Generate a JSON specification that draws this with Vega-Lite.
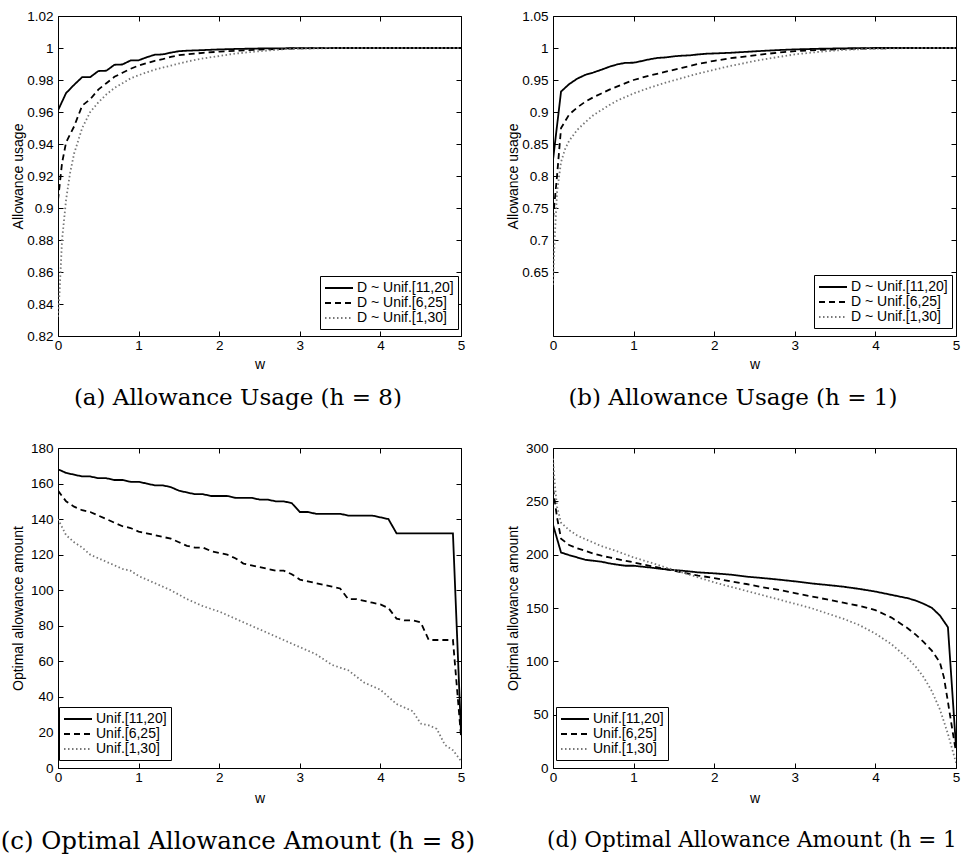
{
"$schema":"https://vega.github.io/schema/vega-lite/v6.json",
"padding":{"left":0,"top":8,"right":0,"bottom":0},
"config":{
 "view":{"stroke":"black","strokeWidth":1},
 "font":"Liberation Sans",
 "axis":{"domain":false,"grid":false,"tickColor":"black","tickSize":-5,"tickWidth":1,"labelColor":"black","labelFont":"Liberation Sans","labelFontSize":13.5,"labelFlush":false,"labelOverlap":false,"labelPadding":10,"titleFont":"Liberation Sans","titleFontSize":14,"titleFontWeight":"normal","titleColor":"black"},
 "axisX":{"labelPadding":7},
 "title":{"font":"DejaVu Serif","fontSize":23,"fontWeight":"normal","color":"black","orient":"bottom"},
 "legend":{"title":null,"orient":"none","symbolType":"M-1,0H3","symbolSize":196,"symbolStrokeWidth":1.8,"labelFont":"Liberation Sans","labelFontSize":14,"labelColor":"black","strokeColor":"black","fillColor":"white","padding":4,"rowPadding":0,"labelOffset":17,"labelLimit":300}
},
"datasets":{
"a":[
{"w":0,"v":0.961,"s":"D ~ Unif.[11,20]"},{"w":0.1,"v":0.9718,"s":"D ~ Unif.[11,20]"},{"w":0.2,"v":0.977,"s":"D ~ Unif.[11,20]"},{"w":0.3,"v":0.9818,"s":"D ~ Unif.[11,20]"},{"w":0.4,"v":0.9818,"s":"D ~ Unif.[11,20]"},{"w":0.5,"v":0.9856,"s":"D ~ Unif.[11,20]"},{"w":0.6,"v":0.9858,"s":"D ~ Unif.[11,20]"},{"w":0.7,"v":0.9895,"s":"D ~ Unif.[11,20]"},{"w":0.8,"v":0.9897,"s":"D ~ Unif.[11,20]"},{"w":0.9,"v":0.9922,"s":"D ~ Unif.[11,20]"},{"w":1,"v":0.9923,"s":"D ~ Unif.[11,20]"},{"w":1.1,"v":0.9942,"s":"D ~ Unif.[11,20]"},{"w":1.2,"v":0.9958,"s":"D ~ Unif.[11,20]"},{"w":1.3,"v":0.996,"s":"D ~ Unif.[11,20]"},{"w":1.4,"v":0.9971,"s":"D ~ Unif.[11,20]"},{"w":1.5,"v":0.998,"s":"D ~ Unif.[11,20]"},{"w":1.6,"v":0.9983,"s":"D ~ Unif.[11,20]"},{"w":1.8,"v":0.9987,"s":"D ~ Unif.[11,20]"},{"w":2,"v":0.9991,"s":"D ~ Unif.[11,20]"},{"w":2.2,"v":0.9994,"s":"D ~ Unif.[11,20]"},{"w":2.5,"v":0.9997,"s":"D ~ Unif.[11,20]"},{"w":3,"v":0.9999,"s":"D ~ Unif.[11,20]"},{"w":3.5,"v":1,"s":"D ~ Unif.[11,20]"},{"w":4,"v":1,"s":"D ~ Unif.[11,20]"},{"w":4.5,"v":1,"s":"D ~ Unif.[11,20]"},{"w":5,"v":1,"s":"D ~ Unif.[11,20]"},
{"w":0,"v":0.905,"s":"D ~ Unif.[6,25]"},{"w":0.05,"v":0.928,"s":"D ~ Unif.[6,25]"},{"w":0.1,"v":0.941,"s":"D ~ Unif.[6,25]"},{"w":0.2,"v":0.951,"s":"D ~ Unif.[6,25]"},{"w":0.3,"v":0.964,"s":"D ~ Unif.[6,25]"},{"w":0.4,"v":0.968,"s":"D ~ Unif.[6,25]"},{"w":0.5,"v":0.974,"s":"D ~ Unif.[6,25]"},{"w":0.6,"v":0.978,"s":"D ~ Unif.[6,25]"},{"w":0.7,"v":0.982,"s":"D ~ Unif.[6,25]"},{"w":0.8,"v":0.9845,"s":"D ~ Unif.[6,25]"},{"w":0.9,"v":0.987,"s":"D ~ Unif.[6,25]"},{"w":1,"v":0.989,"s":"D ~ Unif.[6,25]"},{"w":1.1,"v":0.9905,"s":"D ~ Unif.[6,25]"},{"w":1.2,"v":0.992,"s":"D ~ Unif.[6,25]"},{"w":1.3,"v":0.993,"s":"D ~ Unif.[6,25]"},{"w":1.4,"v":0.9945,"s":"D ~ Unif.[6,25]"},{"w":1.5,"v":0.9955,"s":"D ~ Unif.[6,25]"},{"w":1.6,"v":0.996,"s":"D ~ Unif.[6,25]"},{"w":1.7,"v":0.9965,"s":"D ~ Unif.[6,25]"},{"w":1.8,"v":0.997,"s":"D ~ Unif.[6,25]"},{"w":2,"v":0.9977,"s":"D ~ Unif.[6,25]"},{"w":2.2,"v":0.9982,"s":"D ~ Unif.[6,25]"},{"w":2.5,"v":0.999,"s":"D ~ Unif.[6,25]"},{"w":3,"v":0.9998,"s":"D ~ Unif.[6,25]"},{"w":3.5,"v":1,"s":"D ~ Unif.[6,25]"},{"w":4,"v":1,"s":"D ~ Unif.[6,25]"},{"w":5,"v":1,"s":"D ~ Unif.[6,25]"},
{"w":0,"v":0.832,"s":"D ~ Unif.[1,30]"},{"w":0.02,"v":0.848,"s":"D ~ Unif.[1,30]"},{"w":0.05,"v":0.88,"s":"D ~ Unif.[1,30]"},{"w":0.1,"v":0.905,"s":"D ~ Unif.[1,30]"},{"w":0.15,"v":0.922,"s":"D ~ Unif.[1,30]"},{"w":0.2,"v":0.934,"s":"D ~ Unif.[1,30]"},{"w":0.3,"v":0.95,"s":"D ~ Unif.[1,30]"},{"w":0.4,"v":0.96,"s":"D ~ Unif.[1,30]"},{"w":0.5,"v":0.966,"s":"D ~ Unif.[1,30]"},{"w":0.6,"v":0.971,"s":"D ~ Unif.[1,30]"},{"w":0.7,"v":0.975,"s":"D ~ Unif.[1,30]"},{"w":0.8,"v":0.978,"s":"D ~ Unif.[1,30]"},{"w":0.9,"v":0.981,"s":"D ~ Unif.[1,30]"},{"w":1,"v":0.983,"s":"D ~ Unif.[1,30]"},{"w":1.2,"v":0.9865,"s":"D ~ Unif.[1,30]"},{"w":1.4,"v":0.989,"s":"D ~ Unif.[1,30]"},{"w":1.6,"v":0.9915,"s":"D ~ Unif.[1,30]"},{"w":1.8,"v":0.9935,"s":"D ~ Unif.[1,30]"},{"w":2,"v":0.995,"s":"D ~ Unif.[1,30]"},{"w":2.2,"v":0.9965,"s":"D ~ Unif.[1,30]"},{"w":2.5,"v":0.998,"s":"D ~ Unif.[1,30]"},{"w":2.8,"v":0.9992,"s":"D ~ Unif.[1,30]"},{"w":3,"v":0.9996,"s":"D ~ Unif.[1,30]"},{"w":3.5,"v":1,"s":"D ~ Unif.[1,30]"},{"w":4,"v":1,"s":"D ~ Unif.[1,30]"},{"w":5,"v":1,"s":"D ~ Unif.[1,30]"}
],
"b":[
{"w":0,"v":0.825,"s":"D ~ Unif.[11,20]"},{"w":0.1,"v":0.932,"s":"D ~ Unif.[11,20]"},{"w":0.2,"v":0.9435,"s":"D ~ Unif.[11,20]"},{"w":0.3,"v":0.952,"s":"D ~ Unif.[11,20]"},{"w":0.4,"v":0.958,"s":"D ~ Unif.[11,20]"},{"w":0.5,"v":0.9617,"s":"D ~ Unif.[11,20]"},{"w":0.6,"v":0.966,"s":"D ~ Unif.[11,20]"},{"w":0.7,"v":0.9707,"s":"D ~ Unif.[11,20]"},{"w":0.8,"v":0.9745,"s":"D ~ Unif.[11,20]"},{"w":0.9,"v":0.9768,"s":"D ~ Unif.[11,20]"},{"w":1,"v":0.977,"s":"D ~ Unif.[11,20]"},{"w":1.1,"v":0.9796,"s":"D ~ Unif.[11,20]"},{"w":1.2,"v":0.9824,"s":"D ~ Unif.[11,20]"},{"w":1.3,"v":0.9845,"s":"D ~ Unif.[11,20]"},{"w":1.4,"v":0.9853,"s":"D ~ Unif.[11,20]"},{"w":1.5,"v":0.987,"s":"D ~ Unif.[11,20]"},{"w":1.6,"v":0.988,"s":"D ~ Unif.[11,20]"},{"w":1.7,"v":0.9885,"s":"D ~ Unif.[11,20]"},{"w":1.8,"v":0.99,"s":"D ~ Unif.[11,20]"},{"w":1.9,"v":0.991,"s":"D ~ Unif.[11,20]"},{"w":2,"v":0.9915,"s":"D ~ Unif.[11,20]"},{"w":2.2,"v":0.9925,"s":"D ~ Unif.[11,20]"},{"w":2.4,"v":0.994,"s":"D ~ Unif.[11,20]"},{"w":2.6,"v":0.9955,"s":"D ~ Unif.[11,20]"},{"w":2.8,"v":0.9968,"s":"D ~ Unif.[11,20]"},{"w":3,"v":0.9978,"s":"D ~ Unif.[11,20]"},{"w":3.3,"v":0.9988,"s":"D ~ Unif.[11,20]"},{"w":3.6,"v":0.9995,"s":"D ~ Unif.[11,20]"},{"w":4,"v":1,"s":"D ~ Unif.[11,20]"},{"w":4.5,"v":1,"s":"D ~ Unif.[11,20]"},{"w":5,"v":1,"s":"D ~ Unif.[11,20]"},
{"w":0,"v":0.733,"s":"D ~ Unif.[6,25]"},{"w":0.05,"v":0.8,"s":"D ~ Unif.[6,25]"},{"w":0.1,"v":0.875,"s":"D ~ Unif.[6,25]"},{"w":0.2,"v":0.896,"s":"D ~ Unif.[6,25]"},{"w":0.3,"v":0.907,"s":"D ~ Unif.[6,25]"},{"w":0.4,"v":0.916,"s":"D ~ Unif.[6,25]"},{"w":0.5,"v":0.923,"s":"D ~ Unif.[6,25]"},{"w":0.6,"v":0.929,"s":"D ~ Unif.[6,25]"},{"w":0.7,"v":0.935,"s":"D ~ Unif.[6,25]"},{"w":0.8,"v":0.94,"s":"D ~ Unif.[6,25]"},{"w":0.9,"v":0.945,"s":"D ~ Unif.[6,25]"},{"w":1,"v":0.95,"s":"D ~ Unif.[6,25]"},{"w":1.2,"v":0.957,"s":"D ~ Unif.[6,25]"},{"w":1.4,"v":0.963,"s":"D ~ Unif.[6,25]"},{"w":1.6,"v":0.969,"s":"D ~ Unif.[6,25]"},{"w":1.8,"v":0.975,"s":"D ~ Unif.[6,25]"},{"w":2,"v":0.98,"s":"D ~ Unif.[6,25]"},{"w":2.2,"v":0.984,"s":"D ~ Unif.[6,25]"},{"w":2.4,"v":0.987,"s":"D ~ Unif.[6,25]"},{"w":2.6,"v":0.99,"s":"D ~ Unif.[6,25]"},{"w":2.8,"v":0.993,"s":"D ~ Unif.[6,25]"},{"w":3,"v":0.995,"s":"D ~ Unif.[6,25]"},{"w":3.3,"v":0.997,"s":"D ~ Unif.[6,25]"},{"w":3.6,"v":0.9985,"s":"D ~ Unif.[6,25]"},{"w":4,"v":0.9995,"s":"D ~ Unif.[6,25]"},{"w":4.5,"v":1,"s":"D ~ Unif.[6,25]"},{"w":5,"v":1,"s":"D ~ Unif.[6,25]"},
{"w":0,"v":0.63,"s":"D ~ Unif.[1,30]"},{"w":0.02,"v":0.7,"s":"D ~ Unif.[1,30]"},{"w":0.05,"v":0.775,"s":"D ~ Unif.[1,30]"},{"w":0.1,"v":0.822,"s":"D ~ Unif.[1,30]"},{"w":0.15,"v":0.842,"s":"D ~ Unif.[1,30]"},{"w":0.2,"v":0.855,"s":"D ~ Unif.[1,30]"},{"w":0.3,"v":0.872,"s":"D ~ Unif.[1,30]"},{"w":0.4,"v":0.884,"s":"D ~ Unif.[1,30]"},{"w":0.5,"v":0.895,"s":"D ~ Unif.[1,30]"},{"w":0.6,"v":0.903,"s":"D ~ Unif.[1,30]"},{"w":0.7,"v":0.911,"s":"D ~ Unif.[1,30]"},{"w":0.8,"v":0.918,"s":"D ~ Unif.[1,30]"},{"w":1,"v":0.929,"s":"D ~ Unif.[1,30]"},{"w":1.2,"v":0.938,"s":"D ~ Unif.[1,30]"},{"w":1.4,"v":0.946,"s":"D ~ Unif.[1,30]"},{"w":1.6,"v":0.953,"s":"D ~ Unif.[1,30]"},{"w":1.8,"v":0.96,"s":"D ~ Unif.[1,30]"},{"w":2,"v":0.966,"s":"D ~ Unif.[1,30]"},{"w":2.2,"v":0.972,"s":"D ~ Unif.[1,30]"},{"w":2.4,"v":0.977,"s":"D ~ Unif.[1,30]"},{"w":2.6,"v":0.982,"s":"D ~ Unif.[1,30]"},{"w":2.8,"v":0.986,"s":"D ~ Unif.[1,30]"},{"w":3,"v":0.99,"s":"D ~ Unif.[1,30]"},{"w":3.3,"v":0.994,"s":"D ~ Unif.[1,30]"},{"w":3.6,"v":0.997,"s":"D ~ Unif.[1,30]"},{"w":4,"v":0.999,"s":"D ~ Unif.[1,30]"},{"w":4.5,"v":1,"s":"D ~ Unif.[1,30]"},{"w":5,"v":1,"s":"D ~ Unif.[1,30]"}
],
"c":[
{"w":0,"v":168,"s":"Unif.[11,20]"},{"w":0.1,"v":166,"s":"Unif.[11,20]"},{"w":0.2,"v":165,"s":"Unif.[11,20]"},{"w":0.3,"v":164,"s":"Unif.[11,20]"},{"w":0.4,"v":164,"s":"Unif.[11,20]"},{"w":0.5,"v":163,"s":"Unif.[11,20]"},{"w":0.6,"v":163,"s":"Unif.[11,20]"},{"w":0.7,"v":162,"s":"Unif.[11,20]"},{"w":0.8,"v":162,"s":"Unif.[11,20]"},{"w":0.9,"v":161,"s":"Unif.[11,20]"},{"w":1,"v":161,"s":"Unif.[11,20]"},{"w":1.1,"v":160,"s":"Unif.[11,20]"},{"w":1.2,"v":159,"s":"Unif.[11,20]"},{"w":1.3,"v":159,"s":"Unif.[11,20]"},{"w":1.4,"v":158,"s":"Unif.[11,20]"},{"w":1.5,"v":156,"s":"Unif.[11,20]"},{"w":1.6,"v":155,"s":"Unif.[11,20]"},{"w":1.7,"v":154,"s":"Unif.[11,20]"},{"w":1.8,"v":154,"s":"Unif.[11,20]"},{"w":1.9,"v":153,"s":"Unif.[11,20]"},{"w":2,"v":153,"s":"Unif.[11,20]"},{"w":2.1,"v":153,"s":"Unif.[11,20]"},{"w":2.2,"v":152,"s":"Unif.[11,20]"},{"w":2.3,"v":152,"s":"Unif.[11,20]"},{"w":2.4,"v":152,"s":"Unif.[11,20]"},{"w":2.5,"v":151,"s":"Unif.[11,20]"},{"w":2.6,"v":151,"s":"Unif.[11,20]"},{"w":2.7,"v":150,"s":"Unif.[11,20]"},{"w":2.8,"v":150,"s":"Unif.[11,20]"},{"w":2.9,"v":149,"s":"Unif.[11,20]"},{"w":3,"v":144,"s":"Unif.[11,20]"},{"w":3.1,"v":144,"s":"Unif.[11,20]"},{"w":3.2,"v":143,"s":"Unif.[11,20]"},{"w":3.3,"v":143,"s":"Unif.[11,20]"},{"w":3.4,"v":143,"s":"Unif.[11,20]"},{"w":3.5,"v":143,"s":"Unif.[11,20]"},{"w":3.6,"v":142,"s":"Unif.[11,20]"},{"w":3.7,"v":142,"s":"Unif.[11,20]"},{"w":3.8,"v":142,"s":"Unif.[11,20]"},{"w":3.9,"v":142,"s":"Unif.[11,20]"},{"w":4,"v":141,"s":"Unif.[11,20]"},{"w":4.1,"v":140,"s":"Unif.[11,20]"},{"w":4.2,"v":132,"s":"Unif.[11,20]"},{"w":4.3,"v":132,"s":"Unif.[11,20]"},{"w":4.4,"v":132,"s":"Unif.[11,20]"},{"w":4.5,"v":132,"s":"Unif.[11,20]"},{"w":4.6,"v":132,"s":"Unif.[11,20]"},{"w":4.7,"v":132,"s":"Unif.[11,20]"},{"w":4.8,"v":132,"s":"Unif.[11,20]"},{"w":4.9,"v":132,"s":"Unif.[11,20]"},{"w":5,"v":20,"s":"Unif.[11,20]"},
{"w":0,"v":156,"s":"Unif.[6,25]"},{"w":0.1,"v":150,"s":"Unif.[6,25]"},{"w":0.2,"v":147,"s":"Unif.[6,25]"},{"w":0.3,"v":145,"s":"Unif.[6,25]"},{"w":0.4,"v":144,"s":"Unif.[6,25]"},{"w":0.5,"v":142,"s":"Unif.[6,25]"},{"w":0.6,"v":140,"s":"Unif.[6,25]"},{"w":0.7,"v":138,"s":"Unif.[6,25]"},{"w":0.8,"v":136,"s":"Unif.[6,25]"},{"w":0.9,"v":135,"s":"Unif.[6,25]"},{"w":1,"v":133,"s":"Unif.[6,25]"},{"w":1.1,"v":132,"s":"Unif.[6,25]"},{"w":1.2,"v":131,"s":"Unif.[6,25]"},{"w":1.3,"v":130,"s":"Unif.[6,25]"},{"w":1.4,"v":129,"s":"Unif.[6,25]"},{"w":1.5,"v":127,"s":"Unif.[6,25]"},{"w":1.6,"v":125,"s":"Unif.[6,25]"},{"w":1.7,"v":124,"s":"Unif.[6,25]"},{"w":1.8,"v":124,"s":"Unif.[6,25]"},{"w":1.9,"v":122,"s":"Unif.[6,25]"},{"w":2,"v":121,"s":"Unif.[6,25]"},{"w":2.1,"v":120,"s":"Unif.[6,25]"},{"w":2.2,"v":118,"s":"Unif.[6,25]"},{"w":2.3,"v":115,"s":"Unif.[6,25]"},{"w":2.4,"v":114,"s":"Unif.[6,25]"},{"w":2.5,"v":113,"s":"Unif.[6,25]"},{"w":2.6,"v":112,"s":"Unif.[6,25]"},{"w":2.7,"v":111,"s":"Unif.[6,25]"},{"w":2.8,"v":111,"s":"Unif.[6,25]"},{"w":2.9,"v":109,"s":"Unif.[6,25]"},{"w":3,"v":106,"s":"Unif.[6,25]"},{"w":3.1,"v":105,"s":"Unif.[6,25]"},{"w":3.2,"v":104,"s":"Unif.[6,25]"},{"w":3.3,"v":103,"s":"Unif.[6,25]"},{"w":3.4,"v":102,"s":"Unif.[6,25]"},{"w":3.5,"v":101,"s":"Unif.[6,25]"},{"w":3.6,"v":95,"s":"Unif.[6,25]"},{"w":3.7,"v":95,"s":"Unif.[6,25]"},{"w":3.8,"v":94,"s":"Unif.[6,25]"},{"w":3.9,"v":93,"s":"Unif.[6,25]"},{"w":4,"v":92,"s":"Unif.[6,25]"},{"w":4.1,"v":90,"s":"Unif.[6,25]"},{"w":4.2,"v":84,"s":"Unif.[6,25]"},{"w":4.3,"v":83,"s":"Unif.[6,25]"},{"w":4.4,"v":83,"s":"Unif.[6,25]"},{"w":4.5,"v":82,"s":"Unif.[6,25]"},{"w":4.6,"v":72,"s":"Unif.[6,25]"},{"w":4.7,"v":72,"s":"Unif.[6,25]"},{"w":4.8,"v":72,"s":"Unif.[6,25]"},{"w":4.9,"v":72,"s":"Unif.[6,25]"},{"w":5,"v":18,"s":"Unif.[6,25]"},
{"w":0,"v":140,"s":"Unif.[1,30]"},{"w":0.1,"v":131,"s":"Unif.[1,30]"},{"w":0.2,"v":127,"s":"Unif.[1,30]"},{"w":0.3,"v":124,"s":"Unif.[1,30]"},{"w":0.4,"v":120,"s":"Unif.[1,30]"},{"w":0.5,"v":118,"s":"Unif.[1,30]"},{"w":0.6,"v":116,"s":"Unif.[1,30]"},{"w":0.7,"v":114,"s":"Unif.[1,30]"},{"w":0.8,"v":112,"s":"Unif.[1,30]"},{"w":0.9,"v":111,"s":"Unif.[1,30]"},{"w":1,"v":108,"s":"Unif.[1,30]"},{"w":1.2,"v":104,"s":"Unif.[1,30]"},{"w":1.4,"v":100,"s":"Unif.[1,30]"},{"w":1.6,"v":95,"s":"Unif.[1,30]"},{"w":1.8,"v":91,"s":"Unif.[1,30]"},{"w":2,"v":88,"s":"Unif.[1,30]"},{"w":2.2,"v":84,"s":"Unif.[1,30]"},{"w":2.4,"v":80,"s":"Unif.[1,30]"},{"w":2.6,"v":76,"s":"Unif.[1,30]"},{"w":2.8,"v":72,"s":"Unif.[1,30]"},{"w":3,"v":68,"s":"Unif.[1,30]"},{"w":3.2,"v":64,"s":"Unif.[1,30]"},{"w":3.4,"v":58,"s":"Unif.[1,30]"},{"w":3.6,"v":55,"s":"Unif.[1,30]"},{"w":3.8,"v":48,"s":"Unif.[1,30]"},{"w":4,"v":44,"s":"Unif.[1,30]"},{"w":4.2,"v":36,"s":"Unif.[1,30]"},{"w":4.4,"v":32,"s":"Unif.[1,30]"},{"w":4.5,"v":25,"s":"Unif.[1,30]"},{"w":4.6,"v":24,"s":"Unif.[1,30]"},{"w":4.7,"v":22,"s":"Unif.[1,30]"},{"w":4.8,"v":13,"s":"Unif.[1,30]"},{"w":4.9,"v":10,"s":"Unif.[1,30]"},{"w":5,"v":4,"s":"Unif.[1,30]"}
],
"d":[
{"w":0,"v":228,"s":"Unif.[11,20]"},{"w":0.1,"v":202,"s":"Unif.[11,20]"},{"w":0.2,"v":199.6,"s":"Unif.[11,20]"},{"w":0.3,"v":197.4,"s":"Unif.[11,20]"},{"w":0.4,"v":195.2,"s":"Unif.[11,20]"},{"w":0.5,"v":194.3,"s":"Unif.[11,20]"},{"w":0.6,"v":193.4,"s":"Unif.[11,20]"},{"w":0.7,"v":191.8,"s":"Unif.[11,20]"},{"w":0.8,"v":190.6,"s":"Unif.[11,20]"},{"w":0.9,"v":189.6,"s":"Unif.[11,20]"},{"w":1,"v":189.6,"s":"Unif.[11,20]"},{"w":1.2,"v":188,"s":"Unif.[11,20]"},{"w":1.4,"v":186.2,"s":"Unif.[11,20]"},{"w":1.6,"v":185,"s":"Unif.[11,20]"},{"w":1.8,"v":183.4,"s":"Unif.[11,20]"},{"w":2,"v":182.5,"s":"Unif.[11,20]"},{"w":2.2,"v":181.3,"s":"Unif.[11,20]"},{"w":2.4,"v":179.4,"s":"Unif.[11,20]"},{"w":2.6,"v":178.1,"s":"Unif.[11,20]"},{"w":2.8,"v":176.6,"s":"Unif.[11,20]"},{"w":3,"v":175,"s":"Unif.[11,20]"},{"w":3.2,"v":173.1,"s":"Unif.[11,20]"},{"w":3.4,"v":171.6,"s":"Unif.[11,20]"},{"w":3.6,"v":170,"s":"Unif.[11,20]"},{"w":3.8,"v":167.9,"s":"Unif.[11,20]"},{"w":4,"v":165.4,"s":"Unif.[11,20]"},{"w":4.2,"v":162.3,"s":"Unif.[11,20]"},{"w":4.4,"v":159.2,"s":"Unif.[11,20]"},{"w":4.5,"v":157,"s":"Unif.[11,20]"},{"w":4.6,"v":153.9,"s":"Unif.[11,20]"},{"w":4.7,"v":150.2,"s":"Unif.[11,20]"},{"w":4.8,"v":143,"s":"Unif.[11,20]"},{"w":4.9,"v":132,"s":"Unif.[11,20]"},{"w":5,"v":20,"s":"Unif.[11,20]"},
{"w":0,"v":262,"s":"Unif.[6,25]"},{"w":0.05,"v":235,"s":"Unif.[6,25]"},{"w":0.1,"v":215,"s":"Unif.[6,25]"},{"w":0.2,"v":209,"s":"Unif.[6,25]"},{"w":0.3,"v":206,"s":"Unif.[6,25]"},{"w":0.4,"v":203.6,"s":"Unif.[6,25]"},{"w":0.5,"v":201,"s":"Unif.[6,25]"},{"w":0.6,"v":199,"s":"Unif.[6,25]"},{"w":0.7,"v":197.4,"s":"Unif.[6,25]"},{"w":0.8,"v":195.8,"s":"Unif.[6,25]"},{"w":1,"v":192.8,"s":"Unif.[6,25]"},{"w":1.2,"v":189.6,"s":"Unif.[6,25]"},{"w":1.4,"v":186.5,"s":"Unif.[6,25]"},{"w":1.6,"v":183.4,"s":"Unif.[6,25]"},{"w":1.8,"v":180.4,"s":"Unif.[6,25]"},{"w":2,"v":178.1,"s":"Unif.[6,25]"},{"w":2.2,"v":175,"s":"Unif.[6,25]"},{"w":2.4,"v":172.5,"s":"Unif.[6,25]"},{"w":2.6,"v":169.4,"s":"Unif.[6,25]"},{"w":2.8,"v":167,"s":"Unif.[6,25]"},{"w":3,"v":164,"s":"Unif.[6,25]"},{"w":3.2,"v":161,"s":"Unif.[6,25]"},{"w":3.4,"v":158,"s":"Unif.[6,25]"},{"w":3.6,"v":155,"s":"Unif.[6,25]"},{"w":3.8,"v":152,"s":"Unif.[6,25]"},{"w":4,"v":148,"s":"Unif.[6,25]"},{"w":4.2,"v":141,"s":"Unif.[6,25]"},{"w":4.4,"v":131,"s":"Unif.[6,25]"},{"w":4.5,"v":125,"s":"Unif.[6,25]"},{"w":4.6,"v":118,"s":"Unif.[6,25]"},{"w":4.7,"v":110,"s":"Unif.[6,25]"},{"w":4.8,"v":99,"s":"Unif.[6,25]"},{"w":4.85,"v":85,"s":"Unif.[6,25]"},{"w":4.9,"v":62,"s":"Unif.[6,25]"},{"w":4.95,"v":38,"s":"Unif.[6,25]"},{"w":5,"v":15,"s":"Unif.[6,25]"},
{"w":0,"v":290,"s":"Unif.[1,30]"},{"w":0.02,"v":268,"s":"Unif.[1,30]"},{"w":0.05,"v":245,"s":"Unif.[1,30]"},{"w":0.1,"v":230,"s":"Unif.[1,30]"},{"w":0.2,"v":223,"s":"Unif.[1,30]"},{"w":0.3,"v":218,"s":"Unif.[1,30]"},{"w":0.4,"v":214.5,"s":"Unif.[1,30]"},{"w":0.5,"v":211.4,"s":"Unif.[1,30]"},{"w":0.6,"v":208,"s":"Unif.[1,30]"},{"w":0.8,"v":203,"s":"Unif.[1,30]"},{"w":1,"v":197.4,"s":"Unif.[1,30]"},{"w":1.2,"v":192.8,"s":"Unif.[1,30]"},{"w":1.4,"v":188,"s":"Unif.[1,30]"},{"w":1.6,"v":183.4,"s":"Unif.[1,30]"},{"w":1.8,"v":178.8,"s":"Unif.[1,30]"},{"w":2,"v":174,"s":"Unif.[1,30]"},{"w":2.2,"v":170,"s":"Unif.[1,30]"},{"w":2.4,"v":166,"s":"Unif.[1,30]"},{"w":2.6,"v":162,"s":"Unif.[1,30]"},{"w":2.8,"v":158,"s":"Unif.[1,30]"},{"w":3,"v":154,"s":"Unif.[1,30]"},{"w":3.2,"v":150,"s":"Unif.[1,30]"},{"w":3.4,"v":145,"s":"Unif.[1,30]"},{"w":3.6,"v":140,"s":"Unif.[1,30]"},{"w":3.8,"v":134,"s":"Unif.[1,30]"},{"w":4,"v":126,"s":"Unif.[1,30]"},{"w":4.2,"v":116,"s":"Unif.[1,30]"},{"w":4.4,"v":103,"s":"Unif.[1,30]"},{"w":4.5,"v":95,"s":"Unif.[1,30]"},{"w":4.6,"v":85,"s":"Unif.[1,30]"},{"w":4.7,"v":72,"s":"Unif.[1,30]"},{"w":4.8,"v":55,"s":"Unif.[1,30]"},{"w":4.9,"v":32,"s":"Unif.[1,30]"},{"w":5,"v":5,"s":"Unif.[1,30]"}
]
},
"columns":2,
"spacing":{"row":112,"column":92},
"bounds":"flush",
"resolve":{"scale":{"x":"independent","y":"independent","color":"independent","strokeDash":"independent"},"legend":{"color":"independent","strokeDash":"independent"}},
"concat":[
{"width":403,"height":320,"data":{"name":"a"},
 "title":{"text":"(a) Allowance Usage (h = 8)","anchor":"middle","frame":"bounds","offset":16},
 "resolve":{"axis":{"x":"independent","y":"independent"}},
 "layer":[
  {"mark":{"type":"line","strokeWidth":1.8,"clip":true},
   "encoding":{
    "x":{"field":"w","type":"quantitative","scale":{"domain":[0,5]},"axis":{"values":[0,1,2,3,4,5],"title":"w","titleX":201.5,"titleY":28,"titleBaseline":"middle"}},
    "y":{"field":"v","type":"quantitative","scale":{"domain":[0.82,1.02]},"axis":{"values":[0.82,0.84,0.86,0.88,0.9,0.92,0.94,0.96,0.98,1,1.02],"format":"~g","title":"Allowance usage","titleX":-40,"titleY":160,"titleBaseline":"middle","titleAngle":270}},
    "color":{"field":"s","type":"nominal","scale":{"domain":["D ~ Unif.[11,20]","D ~ Unif.[6,25]","D ~ Unif.[1,30]"],"range":["black","black","#777777"]},"legend":{"legendX":262,"legendY":260}},
    "strokeDash":{"field":"s","type":"nominal","scale":{"domain":["D ~ Unif.[11,20]","D ~ Unif.[6,25]","D ~ Unif.[1,30]"],"range":[[1,0],[6,4],[1.5,2.5]]},"legend":{"legendX":262,"legendY":260}}
   }},
  {"mark":{"type":"point","opacity":0},
   "encoding":{
    "x":{"field":"w","type":"quantitative","axis":{"orient":"top","values":[0,1,2,3,4,5],"labels":false,"title":null}},
    "y":{"field":"v","type":"quantitative","axis":{"orient":"right","values":[0.82,0.84,0.86,0.88,0.9,0.92,0.94,0.96,0.98,1,1.02],"labels":false,"title":null}}
   }}
 ]},
{"width":403,"height":320,"data":{"name":"b"},
 "title":{"text":"(b) Allowance Usage (h = 1)","anchor":"middle","frame":"bounds","offset":16},
 "resolve":{"axis":{"x":"independent","y":"independent"}},
 "layer":[
  {"mark":{"type":"line","strokeWidth":1.8,"clip":true},
   "encoding":{
    "x":{"field":"w","type":"quantitative","scale":{"domain":[0,5]},"axis":{"values":[0,1,2,3,4,5],"title":"w","titleX":201.5,"titleY":28,"titleBaseline":"middle"}},
    "y":{"field":"v","type":"quantitative","scale":{"domain":[0.599,1.05]},"axis":{"values":[0.65,0.7,0.75,0.8,0.85,0.9,0.95,1,1.05],"format":"~g","title":"Allowance usage","titleX":-40,"titleY":160,"titleBaseline":"middle","titleAngle":270}},
    "color":{"field":"s","type":"nominal","scale":{"domain":["D ~ Unif.[11,20]","D ~ Unif.[6,25]","D ~ Unif.[1,30]"],"range":["black","black","#777777"]},"legend":{"legendX":261,"legendY":259}},
    "strokeDash":{"field":"s","type":"nominal","scale":{"domain":["D ~ Unif.[11,20]","D ~ Unif.[6,25]","D ~ Unif.[1,30]"],"range":[[1,0],[6,4],[1.5,2.5]]},"legend":{"legendX":261,"legendY":259}}
   }},
  {"mark":{"type":"point","opacity":0},
   "encoding":{
    "x":{"field":"w","type":"quantitative","axis":{"orient":"top","values":[0,1,2,3,4,5],"labels":false,"title":null}},
    "y":{"field":"v","type":"quantitative","axis":{"orient":"right","values":[0.65,0.7,0.75,0.8,0.85,0.9,0.95,1,1.05],"labels":false,"title":null}}
   }}
 ]},
{"width":403,"height":320,"data":{"name":"c"},
 "title":{"text":"(c) Optimal Allowance Amount (h = 8)","anchor":"middle","frame":"bounds","offset":25,"fontSize":24.5},
 "resolve":{"axis":{"x":"independent","y":"independent"}},
 "layer":[
  {"mark":{"type":"line","strokeWidth":1.8,"clip":true},
   "encoding":{
    "x":{"field":"w","type":"quantitative","scale":{"domain":[0,5]},"axis":{"values":[0,1,2,3,4,5],"title":"w","titleX":201.5,"titleY":30,"titleBaseline":"middle"}},
    "y":{"field":"v","type":"quantitative","scale":{"domain":[0,180]},"axis":{"values":[0,20,40,60,80,100,120,140,160,180],"title":"Optimal allowance amount","titleX":-40,"titleY":160,"titleBaseline":"middle","titleAngle":270}},
    "color":{"field":"s","type":"nominal","scale":{"domain":["Unif.[11,20]","Unif.[6,25]","Unif.[1,30]"],"range":["black","black","#777777"]},"legend":{"legendX":1,"legendY":259}},
    "strokeDash":{"field":"s","type":"nominal","scale":{"domain":["Unif.[11,20]","Unif.[6,25]","Unif.[1,30]"],"range":[[1,0],[6,4],[1.5,2.5]]},"legend":{"legendX":1,"legendY":259}}
   }},
  {"mark":{"type":"point","opacity":0},
   "encoding":{
    "x":{"field":"w","type":"quantitative","axis":{"orient":"top","values":[0,1,2,3,4,5],"labels":false,"title":null}},
    "y":{"field":"v","type":"quantitative","axis":{"orient":"right","values":[0,20,40,60,80,100,120,140,160,180],"labels":false,"title":null}}
   }}
 ]},
{"width":403,"height":320,"data":{"name":"d"},
 "title":{"text":"(d) Optimal Allowance Amount (h = 1","anchor":"start","frame":"group","offset":25,"dx":-6,"fontSize":21.5},
 "resolve":{"axis":{"x":"independent","y":"independent"}},
 "layer":[
  {"mark":{"type":"line","strokeWidth":1.8,"clip":true},
   "encoding":{
    "x":{"field":"w","type":"quantitative","scale":{"domain":[0,5]},"axis":{"values":[0,1,2,3,4,5],"title":"w","titleX":201.5,"titleY":30,"titleBaseline":"middle"}},
    "y":{"field":"v","type":"quantitative","scale":{"domain":[0,300]},"axis":{"values":[0,50,100,150,200,250,300],"title":"Optimal allowance amount","titleX":-40,"titleY":160,"titleBaseline":"middle","titleAngle":270}},
    "color":{"field":"s","type":"nominal","scale":{"domain":["Unif.[11,20]","Unif.[6,25]","Unif.[1,30]"],"range":["black","black","#777777"]},"legend":{"legendX":3,"legendY":259}},
    "strokeDash":{"field":"s","type":"nominal","scale":{"domain":["Unif.[11,20]","Unif.[6,25]","Unif.[1,30]"],"range":[[1,0],[6,4],[1.5,2.5]]},"legend":{"legendX":3,"legendY":259}}
   }},
  {"mark":{"type":"point","opacity":0},
   "encoding":{
    "x":{"field":"w","type":"quantitative","axis":{"orient":"top","values":[0,1,2,3,4,5],"labels":false,"title":null}},
    "y":{"field":"v","type":"quantitative","axis":{"orient":"right","values":[0,50,100,150,200,250,300],"labels":false,"title":null}}
   }}
 ]}
]
}
